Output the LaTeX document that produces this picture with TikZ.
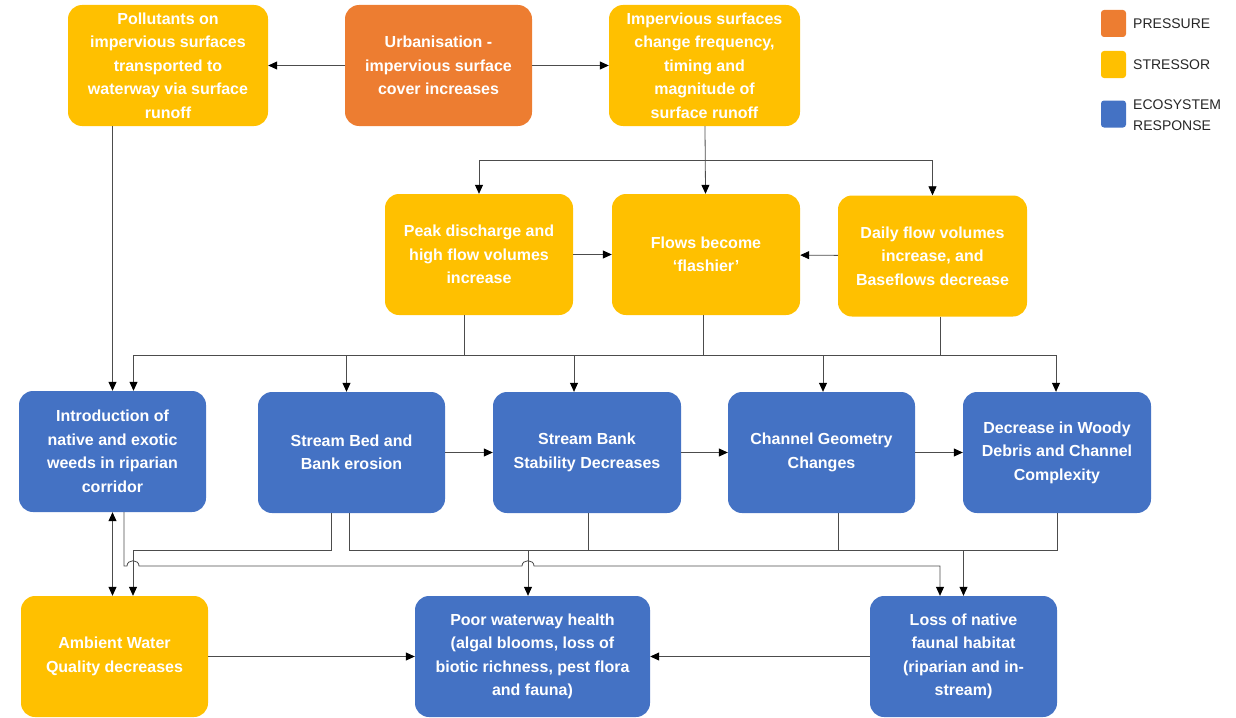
\documentclass[tikz,border=0pt]{standalone}
\usepackage{fontspec}
\setmainfont{Liberation Sans}
\usetikzlibrary{arrows.meta}
\definecolor{pressure}{HTML}{ED7D31}
\definecolor{stressor}{HTML}{FFC000}
\definecolor{response}{HTML}{4472C4}

\begin{document}
\begin{tikzpicture}[x=1pt, y=-1pt, >={Triangle[length=9pt, width=8pt, color=black]}, box/.style={rounded corners=14pt, minimum width=188pt, minimum height=121pt, inner sep=2pt, align=center, text=white, font=\fontsize{16}{23.5}\selectfont\bfseries}, pres/.style={box, fill=pressure}, stress/.style={box, fill=stressor}, resp/.style={box, fill=response}, link/.style={black!70, line width=0.8pt}, key/.style={rounded corners=3pt, minimum width=25pt, minimum height=27pt, inner sep=0pt}, keytext/.style={anchor=west, align=left, inner sep=0pt, font=\fontsize{14}{21}\selectfont, text=black!85}]
	\useasboundingbox (0,0) rectangle (1236,717);
	% top row
	\node[stress, minimum width=200pt] (poll) at (168,65.5) {Pollutants on\\impervious surfaces\\transported to\\waterway via surface\\runoff};
	\node[pres, minimum width=187pt] (urban) at (438.5,65.5) {Urbanisation -\\impervious surface\\cover increases};
	\node[stress, minimum width=191pt] (imperv) at (704.5,65.5) {Impervious surfaces\\change frequency,\\timing and\\magnitude of\\surface runoff};
	% legend
	\node[key, fill=pressure] (keyP) at (1113.5,23.5) {};
	\node[key, fill=stressor] (keyS) at (1113.5,64.5) {};
	\node[key, fill=response] (keyR) at (1113.5,114) {};
	\node[keytext] (keyPtext) at (1133,24) {PRESSURE};
	\node[keytext] (keyStext) at (1133,65) {STRESSOR};
	\node[keytext] (keyRtext) at (1133,115.5) {ECOSYSTEM\\RESPONSE};
	% flow row
	\node[stress] (peak) at (479,254.5) {Peak discharge and\\high flow volumes\\increase};
	\node[stress] (flash) at (706,254.5) {Flows become\\‘flashier’};
	\node[stress, minimum width=189pt] (daily) at (932.5,256) {Daily flow volumes\\increase, and\\Baseflows decrease};
	% response row
	\node[resp, minimum width=187pt] (intro) at (112.5,451.5) {Introduction of\\native and exotic\\weeds in riparian\\corridor};
	\node[resp, minimum width=187pt] (bed) at (351.5,452.5) {Stream Bed and\\Bank erosion};
	\node[resp] (bank) at (587,452.5) {Stream Bank\\Stability Decreases};
	\node[resp, minimum width=187pt] (chan) at (821.5,452.5) {Channel Geometry\\Changes};
	\node[resp] (woody) at (1057,452.5) {Decrease in Woody\\Debris and Channel\\Complexity};
	% bottom row
	\node[stress, minimum width=187pt] (ambient) at (114.5,656.5) {Ambient Water\\Quality decreases};
	\node[resp, minimum width=235pt] (poor) at (532.5,656.5) {Poor waterway health\\(algal blooms, loss of\\biotic richness, pest flora\\and fauna)};
	\node[resp, minimum width=187pt] (loss) at (963.5,656.5) {Loss of native\\faunal habitat\\(riparian and in-\\stream)};
	\coordinate (fork) at (705,160);
	\coordinate (flowbus) at (0,355);
	\coordinate (bus1) at (0,550.5);
	\coordinate (bus2) at (0,566);
	% connectors
	\draw[link, ->] (urban) -- (poll);
	\draw[link, ->] (urban) -- (imperv);
	\draw[link, ->] (poll.south -| intro.north) -- (intro.north);
	\draw[link, ->] (imperv) -- (flash);
	\draw[link, ->] (fork) -| (peak);
	\draw[link, ->] (fork) -| (daily);
	\draw[link, ->] (peak) -- (flash);
	\draw[link, ->] (daily) -- (flash);
	\foreach \n/\dx in {peak/-15, flash/-3, daily/7.5} {\draw[link] ([xshift=\dx]\n.south) -- ([xshift=\dx]\n.south |- flowbus);}
	\draw[link] ([xshift=21]intro.north |- flowbus) -- ([xshift=-1]woody.north |- flowbus);
	\foreach \n/\dx in {intro/21, bed/-5, bank/-13, chan/1.5, woody/-1} {\draw[link, ->] ([xshift=\dx]\n.north |- flowbus) -- ([xshift=\dx]\n.north);}
	\draw[link, ->] (bed) -- (bank);
	\draw[link, ->] (bank) -- (chan);
	\draw[link, ->] (chan) -- (woody);
	\draw[link, <->] (intro.south) -- (intro.south |- ambient.north);
	\draw[link, ->] ([xshift=-20.5]bed.south) |- ([xshift=18.5]ambient.north |- bus1) -- ([xshift=18.5]ambient.north);
	\draw[link] ([xshift=-2.5]bed.south) |- (woody.south |- bus1) -- (woody.south);
	\foreach \n/\dx in {bank/1, chan/16.5} {\draw[link] ([xshift=\dx]\n.south) -- ([xshift=\dx]\n.south |- bus1);}
	\draw[link, ->] ([xshift=-4.5]poor.north |- bus1) -- ([xshift=-4.5]poor.north);
	\draw[link, ->] (loss.north |- bus1) -- (loss.north);
	\draw[link, ->] ([xshift=11.5]intro.south) -- ([xshift=11.5]intro.south |- bus2) -- ([xshift=12.5]ambient.north |- bus2) .. controls +(0,-7) and +(0,-7) .. ([xshift=24.5]ambient.north |- bus2) -- ([xshift=-10.5]poor.north |- bus2) .. controls +(0,-7) and +(0,-7) .. ([xshift=1.5]poor.north |- bus2) -- ([xshift=-23.5]loss.north |- bus2) -- ([xshift=-23.5]loss.north);
	\draw[link, ->] (ambient) -- (poor);
	\draw[link, ->] (loss) -- (poor);
\end{tikzpicture}
\end{document}
